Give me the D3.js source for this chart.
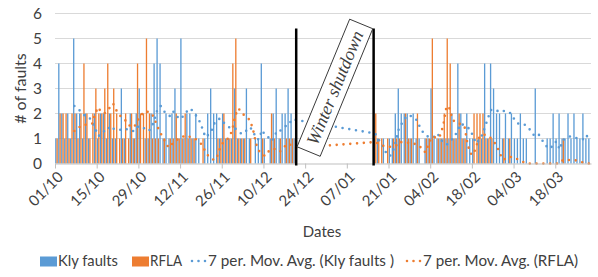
<!DOCTYPE html>
<html>
<head>
<meta charset="utf-8">
<script src="https://cdn.jsdelivr.net/npm/d3@7"></script>
<style>
  body { margin: 0; background: #fff; }
  text { font-family: Lato, "Liberation Sans", sans-serif; fill: #404040; }
</style>
</head>
<body>
<div id="chart"></div>
<script>
// one value per day starting 01/10, null = winter shutdown (no data)
var startDate = new Date(2017, 9, 1);
var numDays = 180;

var klyFaults = [
  1,4,2,1,2,1,5,2,2,1,
  2,1,0,2,1,2,2,1,2,1,
  1,0,3,1,0,2,1,2,3,0,
  1,1,2,4,5,4,1,2,1,2,
  3,1,5,1,2,2,1,2,1,0,
  1,2,3,2,2,1,2,1,1,1,
  3,1,1,1,3,1,0,1,1,4,
  1,0,1,2,3,1,2,2,3,2,
  1,
  null,null,null,null,null,null,null,null,null,null,null,null,null,
  null,null,null,null,null,null,null,null,null,null,null,null,null,
  1,1,0,1,0,1,1,2,3,2,
  2,2,1,2,1,1,0,1,1,3,
  1,1,1,1,1,1,2,1,4,2,
  1,2,1,1,0,1,1,4,1,4,
  3,2,2,1,2,1,2,1,1,2,
  1,1,0,0,3,0,0,0,1,1,
  2,1,2,1,1,2,1,2,1,1,
  2,1,1
];

var rfla = [
  1,2,2,2,1,2,2,1,2,4,
  2,1,2,3,2,2,3,4,2,3,
  2,1,1,2,1,2,1,4,2,2,
  5,2,1,1,1,0,1,0,1,1,
  2,1,1,2,1,1,1,0,0,1,
  0,0,0,0,1,1,2,1,1,4,
  5,1,1,1,0,1,0,0,0,1,
  0,0,2,1,0,1,0,1,1,1,
  1,
  null,null,null,null,null,null,null,null,null,null,null,null,null,
  null,null,null,null,null,null,null,null,null,null,null,null,null,
  2,1,1,0,1,0,1,1,1,0,
  2,1,1,0,2,0,0,1,1,5,
  0,1,1,2,5,4,1,1,2,1,
  1,0,0,2,2,2,2,1,1,1,
  0,0,0,1,0,1,0,0,0,0,
  0,0,0,0,0,0,0,0,0,0,
  0,0,0,1,0,0,0,0,0,0,
  0,0,0
];

// 7 per. moving average trendlines
var klyAvg = [
  null,null,null,null,null,null,2.3,2.2,2.1,1.95,
  1.9,1.85,1.65,1.4,1.1,1.15,1.3,1.3,1.5,1.4,
  1.35,1.35,1.35,1.4,1.35,1.3,1.3,1.45,1.5,1.45,
  1.35,1.3,1.45,1.8,2.2,2.3,2.1,2.0,1.9,2.1,
  2.0,1.8,1.8,2.0,2.1,2.2,2.05,1.9,1.7,1.4,
  1.05,1.15,1.3,1.6,1.75,1.8,1.65,1.55,1.45,1.4,
  1.4,1.3,1.2,1.2,1.35,1.45,1.3,1.0,0.96,1.33,
  1.15,1.07,0.9,1.0,1.31,1.3,1.4,1.5,1.53,1.76,
  1.75,
  null,null,null,null,null,null,null,null,null,null,null,null,null,
  null,null,null,null,null,null,null,null,null,null,null,null,null,
  1.2,1.0,0.8,0.6,0.35,0.3,0.5,0.9,1.4,1.6,
  1.8,1.93,1.9,1.85,1.73,1.47,1.27,1.15,1.05,1.07,
  1.07,1.2,0.95,0.85,0.75,0.85,1.0,1.15,1.4,1.6,
  1.5,1.45,1.35,1.05,0.8,0.95,1.15,1.5,1.85,2.15,
  2.15,2.1,2.15,2.1,2.1,2.05,1.95,1.7,1.6,1.6,
  1.57,1.5,1.35,1.17,1.07,1.15,0.96,0.75,0.65,0.6,
  0.83,0.87,0.56,0.93,1.0,1.07,1.09,1.05,1.0,1.0,
  0.96,1.13,0.89
];

var rflaAvg = [
  null,null,null,null,null,null,1.3,1.35,1.5,1.55,
  1.55,1.6,1.6,2.0,2.25,2.05,2.0,2.1,2.25,2.4,
  2.15,1.95,1.85,1.75,1.55,1.5,1.45,1.65,1.9,2.0,
  2.1,2.05,2.0,1.75,1.45,1.2,1.0,0.73,0.64,0.8,
  0.9,1.0,1.05,1.1,1.12,1.05,1.0,0.96,0.85,0.73,
  0.47,0.3,0.2,0.13,0.3,0.64,0.85,0.95,1.04,1.33,
  1.9,2.2,2.1,1.93,1.84,1.73,1.36,0.8,0.5,0.4,
  0.3,0.47,0.53,0.6,0.5,0.47,0.6,0.73,0.8,0.7,
  0.62,
  null,null,null,null,null,null,null,null,null,null,null,null,null,
  null,null,null,null,null,null,null,null,null,null,null,null,null,
  0.86,0.8,0.73,0.7,0.68,0.67,0.67,0.7,0.87,0.85,
  0.83,0.83,0.83,0.8,0.75,0.7,0.5,0.45,0.8,1.05,
  1.05,1.0,1.15,1.6,2.3,2.2,1.75,1.65,1.6,1.57,
  1.5,0.8,0.4,0.35,0.7,1.05,1.15,1.15,1.1,1.0,
  0.85,0.67,0.37,0.15,0.2,0.27,0.25,0.24,0.15,0.1,
  0.05,0,0,0,0,0,0,0,0,0,
  0,0,0,0.14,0.14,0.14,0.14,0.14,0.1,0.07,
  0.03,0,0
];

var tickLabels = ["01/10","15/10","29/10","12/11","26/11","10/12","24/12",
                  "07/01","21/01","04/02","18/02","04/03","18/03"];
var yTicks = [0, 1, 2, 3, 4, 5, 6];

var shutdownStart = 81;   // day index of first missing day
var shutdownEnd = 107;    // first day back

var legendNames = ["Kly faults", "RFLA", "7 per. Mov. Avg. (Kly faults )", "7 per. Mov. Avg. (RFLA)"];

var blue = "#5B9BD5";
var orange = "#ED7D31";

function init(){
  var w = 598;
  var h = 277;

  var days = d3.range(numDays).map(function(i){
    return d3.timeDay.offset(startDate, i);
  });

  var xScale = d3.scaleTime()
                 .domain([startDate, d3.timeDay.offset(startDate, numDays)])
                 .range([55, 591]);

  var yScale = d3.scaleLinear()
                 .domain([0, 6])
                 .range([163.5, 13.5]);

  var dayW = xScale(days[1]) - xScale(days[0]);

  var svg = d3.select("#chart")
              .append("svg")
              .attr("width", w)
              .attr("height", h);

  // gridlines
  svg.selectAll("line.grid")
     .data(yTicks.slice(1))
     .enter()
     .append("line")
     .attr("class", "grid")
     .attr("x1", xScale.range()[0])
     .attr("x2", xScale.range()[1])
     .attr("y1", function(d){ return yScale(d); })
     .attr("y2", function(d){ return yScale(d); })
     .attr("stroke", "#D9D9D9")
     .attr("stroke-width", 1);

  // bars, two per day (clustered)
  var bars = days.map(function(d, i){
    return { date: d, kly: klyFaults[i], rfla: rfla[i] };
  });

  svg.selectAll("rect.kly")
     .data(bars.filter(function(d){ return d.kly > 0; }))
     .enter()
     .append("rect")
     .attr("class", "kly")
     .attr("x", function(d){ return xScale(d.date) + dayW * 0.06; })
     .attr("width", dayW * 0.44)
     .attr("y", function(d){ return yScale(d.kly); })
     .attr("height", function(d){ return yScale(0) - yScale(d.kly); })
     .attr("fill", blue);

  svg.selectAll("rect.rfla")
     .data(bars.filter(function(d){ return d.rfla > 0; }))
     .enter()
     .append("rect")
     .attr("class", "rfla")
     .attr("x", function(d){ return xScale(d.date) + dayW * 0.5; })
     .attr("width", dayW * 0.44)
     .attr("y", function(d){ return yScale(d.rfla); })
     .attr("height", function(d){ return yScale(0) - yScale(d.rfla); })
     .attr("fill", orange);

  // moving averages
  var avgLine = d3.line()
                  .x(function(d){ return xScale(d[0]) + dayW / 2; })
                  .y(function(d){ return yScale(d[1]); });

  function avgPoints(arr){
    var pts = [];
    arr.forEach(function(v, i){
      if (v !== null) pts.push([days[i], v]);
    });
    return pts;
  }

  [[klyAvg, blue], [rflaAvg, orange]].forEach(function(s){
    svg.append("path")
       .datum(avgPoints(s[0]))
       .attr("d", avgLine)
       .attr("fill", "none")
       .attr("stroke", s[1])
       .attr("stroke-width", 2.6)
       .attr("stroke-linecap", "round")
       .attr("stroke-dasharray", "0,6.8");
  });

  // x axis
  var tickDates = tickLabels.map(function(t, i){ return days[i * 14]; });

  var xAxis = d3.axisBottom(xScale)
                .tickValues(tickDates)
                .tickFormat(function(d, i){ return tickLabels[i]; })
                .tickSizeInner(5)
                .tickSizeOuter(0);

  var gx = svg.append("g")
              .attr("transform", "translate(0," + yScale(0) + ")")
              .call(xAxis);

  gx.select(".domain").attr("stroke", "#BFBFBF");
  gx.selectAll(".tick line").attr("stroke", "#BFBFBF");
  gx.selectAll(".tick text")
    .attr("x", -4)
    .attr("y", 11)
    .attr("dy", "0.35em")
    .attr("transform", "rotate(-45)")
    .style("text-anchor", "end")
    .style("font-family", "Lato, sans-serif")
    .style("font-size", "15px")
    .attr("fill", "#404040");

  // y labels
  svg.selectAll("text.ylab")
     .data(yTicks)
     .enter()
     .append("text")
     .attr("class", "ylab")
     .attr("x", 42)
     .attr("y", function(d){ return yScale(d); })
     .attr("dy", "0.36em")
     .attr("text-anchor", "end")
     .style("font-size", "15.5px")
     .text(function(d){ return d; });

  svg.append("text")
     .attr("transform", "translate(26," + yScale(3) + ") rotate(-90)")
     .attr("text-anchor", "middle")
     .style("font-size", "16px")
     .text("# of faults");

  svg.append("text")
     .attr("x", 322)
     .attr("y", 237)
     .attr("text-anchor", "middle")
     .style("font-size", "15px")
     .text("Dates");

  // winter shutdown markers
  var xs1 = xScale(days[shutdownStart]);
  var xs2 = xScale(days[shutdownEnd]);

  [xs1, xs2].forEach(function(x){
    svg.append("line")
       .attr("x1", x).attr("x2", x)
       .attr("y1", yScale(5.4))
       .attr("y2", yScale(0) + 2)
       .attr("stroke", "#000")
       .attr("stroke-width", 2.5);
  });

  var box = svg.append("g")
               .attr("transform", "translate(" + ((xs1 + xs2) / 2) + "," + yScale(3.03) + ") rotate(-67.6)");

  box.append("rect")
     .attr("x", -69)
     .attr("y", -12.5)
     .attr("width", 138)
     .attr("height", 25)
     .attr("fill", "#fff")
     .attr("stroke", "#222")
     .attr("stroke-width", 0.8);

  box.append("text")
     .attr("x", 0)
     .attr("y", 0)
     .attr("dy", "0.33em")
     .attr("text-anchor", "middle")
     .style("font-family", "'Liberation Serif', serif")
     .style("font-style", "italic")
     .style("font-size", "18px")
     .attr("fill", "#000")
     .text("Winter shutdown");

  // legend
  var legendX = [40, 132, 190, 405];
  var legendW = [60, 32, 186, 155];
  var ly = 261;
  var lg = svg.append("g");

  legendNames.forEach(function(name, i){
    var col = (i % 2 == 0) ? blue : orange;
    if (i < 2) {
      lg.append("rect")
        .attr("x", legendX[i])
        .attr("y", ly - 4.5)
        .attr("width", 17)
        .attr("height", 10)
        .attr("fill", col);
    } else {
      lg.append("line")
        .attr("x1", legendX[i] + 2)
        .attr("x2", legendX[i] + 16)
        .attr("y1", ly)
        .attr("y2", ly)
        .attr("stroke", col)
        .attr("stroke-width", 2.6)
        .attr("stroke-linecap", "round")
        .attr("stroke-dasharray", "0,6.5");
    }
    lg.append("text")
      .attr("x", legendX[i] + 18)
      .attr("y", ly)
      .attr("dy", "0.35em")
      .attr("textLength", legendW[i])
      .attr("lengthAdjust", "spacingAndGlyphs")
      .style("font-size", "15px")
      .text(name);
  });
}

window.onload = init;
</script>
</body>
</html>
